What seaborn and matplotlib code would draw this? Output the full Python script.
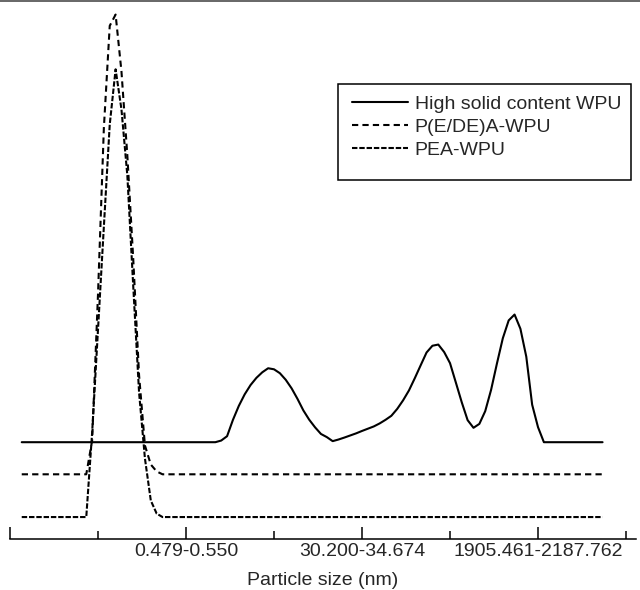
import matplotlib
matplotlib.use("Agg")
import matplotlib.pyplot as plt
import seaborn as sns
from matplotlib.lines import Line2D
from matplotlib.patches import Rectangle

# ---------------- data (size-bin index vs. distribution value) ----------------
series_names = ["High solid content WPU", "P(E/DE)A-WPU", "PEA-WPU"]
series_offsets = [6.42, 4.28, 1.43]

hs_bins = [2, 35, 36, 37, 38, 39, 40, 41, 42, 43, 44, 45, 46, 47, 48, 49, 50,
           51, 52, 53, 54, 55, 56, 57, 58, 59, 60, 61, 62, 63, 64, 65, 66, 67,
           68, 69, 70, 71, 72, 73, 74, 75, 76, 77, 78, 79, 80, 81, 82, 83, 84,
           85, 86, 87, 88, 89, 90, 91, 101]
hs_vals = [0, 0, 0.11, 0.40, 1.49, 2.42, 3.19, 3.81, 4.29, 4.66, 4.93, 4.86,
           4.60, 4.16, 3.59, 2.89, 2.12, 1.50, 0.99, 0.55, 0.34, 0.07, 0.18,
           0.31, 0.45, 0.59, 0.75, 0.90, 1.05, 1.25, 1.49, 1.76, 2.22, 2.79,
           3.45, 4.27, 5.13, 5.98, 6.43, 6.51, 6.01, 5.27, 3.97, 2.66, 1.47,
           0.96, 1.22, 2.07, 3.49, 5.25, 6.93, 8.12, 8.51, 7.56, 5.70, 2.50,
           1.00, 0, 0]

pe_bins = [2, 13, 14, 15, 16, 17, 18, 19, 20, 21, 22, 23, 24, 25, 26, 101]
pe_vals = [0, 0, 2.25, 12.0, 23.1, 29.9, 30.65, 26.85, 21.25, 14.4, 6.6, 1.92,
           0.65, 0.19, 0, 0]

pea_bins = [2, 13, 14, 15, 16, 17, 18, 19, 20, 21, 22, 23, 24, 25, 26, 101]
pea_vals = [0, 0, 5.63, 12.5, 19.37, 26.17, 29.85, 27.17, 22.77, 15.43, 8.3,
            3.9, 1.1, 0.23, 0, 0]

major_ticks = [0, 30, 60, 90]
major_labels = ["", "0.479-0.550", "30.200-34.674", "1905.461-2187.762"]
minor_ticks = [15, 45, 75, 105]
x_title = "Particle size (nm)"

# ---------------- style ----------------
sns.set_style("white")
plt.rcParams['font.family'] = ['Liberation Sans', 'DejaVu Sans']
plt.rcParams['font.size'] = 14

fig = plt.figure(figsize=(6.4, 5.9), dpi=100)
ax = fig.add_axes([10 / 640, 51.5 / 590, 626 / 640, 538.5 / 590])

styles = ["-", (0, (3, 2)), (0, (2.6, 0.9))]
data = [(hs_bins, hs_vals), (pe_bins, pe_vals), (pea_bins, pea_vals)]
for (bx, vy), off, name, ls in zip(data, series_offsets, series_names, styles):
    sns.lineplot(x=bx, y=[v + off for v in vy], ax=ax, color="black",
                 linewidth=1.5, linestyle=ls, sort=False, estimator=None,
                 label=name)

ax.set_xlim(0, 106.7)
ax.set_ylim(0, 538.5 / 15)
ax.set_yticks([])
for s in ["left", "top", "right"]:
    ax.spines[s].set_visible(False)
ax.spines["bottom"].set_linewidth(1.1)
ax.spines["bottom"].set_color("black")

ax.set_xticks(major_ticks)
ax.set_xticklabels(major_labels)
ax.set_xticks(minor_ticks, minor=True)
ax.tick_params(axis="x", which="both", bottom=True, top=False)
ax.tick_params(axis="x", which="major", direction="in", length=8.6,
               width=1.1, pad=3, labelsize=14, color="black")
ax.tick_params(axis="x", which="minor", direction="in", length=5.8,
               width=1.1, color="black")
ax.set_xlabel(x_title, fontsize=14, labelpad=9)
ax.set_ylabel("")

leg = ax.legend(loc="upper left", bbox_to_anchor=(352 / 640, 1 - 95.5 / 590),
                bbox_transform=fig.transFigure, frameon=False, fontsize=14,
                handlelength=2.87, handletextpad=0.36, borderpad=0,
                borderaxespad=0, labelspacing=0.27)
fig.add_artist(Rectangle((338 / 640, 1 - 180 / 590), (631 - 338) / 640,
                         96 / 590, transform=fig.transFigure, fill=False,
                         edgecolor="black", linewidth=1.1))
fig.add_artist(Line2D([0, 1], [1 - 0.8 / 590, 1 - 0.8 / 590],
                      transform=fig.transFigure, color="#666666", linewidth=1.4))

fig.savefig("out.png", dpi=100)
